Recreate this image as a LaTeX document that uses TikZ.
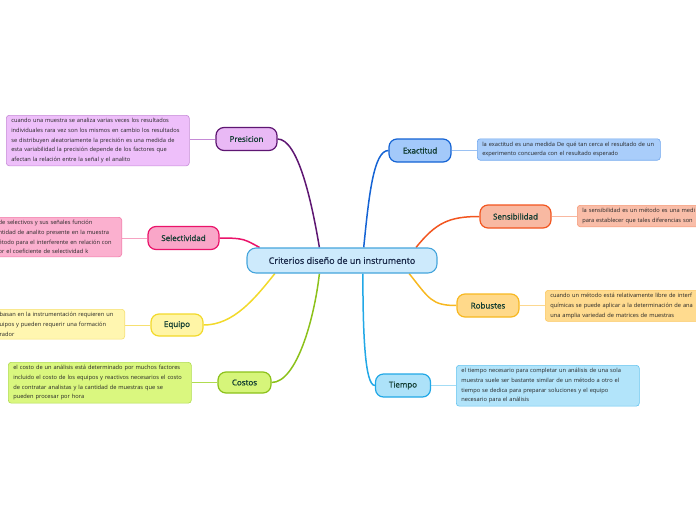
\documentclass[tikz,border=0pt]{standalone}
\usepackage{fontspec}
\setmainfont{Open Sans}
\newfontfamily\topicfont[FakeBold=1.0]{Open Sans}
\usepackage{tikz}
\usetikzlibrary{
    positioning,
    backgrounds,
    calc
}
% central idea
\definecolor{Cfill}{HTML}{CDEAFC}
\definecolor{Cdraw}{HTML}{45A5DC}
\definecolor{Ctext}{HTML}{1B2B4B}
\definecolor{Ttext}{HTML}{123D32}
% one set per branch: topic fill, topic line, note fill, note line
\definecolor{Pfill}{HTML}{E9B9F5}\definecolor{Pdark}{HTML}{5E1672}
\definecolor{Pnote}{HTML}{EEBFFA}\definecolor{Pedge}{HTML}{C58AD6}
\definecolor{Sfill}{HTML}{F9A6C8}\definecolor{Sdark}{HTML}{EA136A}
\definecolor{Snote}{HTML}{FBB0CF}\definecolor{Sedge}{HTML}{F27AA8}
\definecolor{Efill}{HTML}{FFF5A6}\definecolor{Edark}{HTML}{F2D92A}
\definecolor{Enote}{HTML}{FFF6B0}\definecolor{Eedge}{HTML}{F6E070}
\definecolor{Kfill}{HTML}{D6F57A}\definecolor{Kdark}{HTML}{8CC11A}
\definecolor{Knote}{HTML}{DAF77F}\definecolor{Kedge}{HTML}{B0DC50}
\definecolor{Xfill}{HTML}{A3C9FA}\definecolor{Xdark}{HTML}{1463D4}
\definecolor{Xnote}{HTML}{A9CDFA}\definecolor{Xedge}{HTML}{6FA6EE}
\definecolor{Nfill}{HTML}{F8B9A2}\definecolor{Ndark}{HTML}{F2551F}
\definecolor{Nnote}{HTML}{F9BDA8}\definecolor{Nedge}{HTML}{F69A78}
\definecolor{Rfill}{HTML}{FFD98A}\definecolor{Rdark}{HTML}{F7B821}
\definecolor{Rnote}{HTML}{FFDB8F}\definecolor{Redge}{HTML}{FBC860}
\definecolor{Tfill}{HTML}{ADE2F9}\definecolor{Tdark}{HTML}{22A8E6}
\definecolor{Tnote}{HTML}{B2E4FA}\definecolor{Tedge}{HTML}{66C4EF}
\tikzset{
    mcentral/.style={
        rectangle, rounded corners=9pt, draw=Cdraw, line width=1.1pt,
        fill=Cfill, text=Ctext, minimum width=190pt, minimum height=25pt,
        font=\topicfont\fontsize{9}{10}\selectfont, inner sep=0pt
    },
    mtopic/.style 2 args={
        rectangle, rounded corners=8pt, draw=#2, line width=1.2pt,
        fill=#1, text=Ttext, minimum height=23pt,
        font=\topicfont\fontsize{8}{10}\selectfont, inner sep=0pt
    },
    mnote/.style 2 args={
        rectangle, rounded corners=3pt, draw=#2, line width=0.6pt,
        fill=#1, text=black!85, text width=173pt, align=left,
        font=\fontsize{5.7}{9.7}\selectfont, inner xsep=5pt, inner ysep=3pt
    },
    mbranch/.style={line width=1.5pt, #1},
    mlink/.style={line width=0.9pt, #1},
}
\begin{document}
\begin{tikzpicture}[x=1pt, y=1pt]

    \useasboundingbox (0,0) rectangle (696,-520);
    \clip (0,0) rectangle (696,-520);

    \node [mcentral] (central) at (342,-260.5) {Criterios diseño de un instrumento};

    % left branches
    \node [mtopic={Pfill}{Pdark}, minimum width=61pt] (presicion) at (246.5,-139) {Presicion};
    \node [mtopic={Sfill}{Sdark}, minimum width=71pt] (selectividad) at (183.5,-238) {Selectividad};
    \node [mtopic={Efill}{Edark}, minimum width=52pt, minimum height=22pt] (equipo) at (177,-325) {Equipo};
    \node [mtopic={Kfill}{Kdark}, minimum width=53pt, minimum height=21pt] (costos) at (244.5,-382.5) {Costos};

    % right branches
    \node [mtopic={Xfill}{Xdark}, minimum width=62pt] (exactitud) at (420,-150.5) {Exactitud};
    \node [mtopic={Nfill}{Ndark}, minimum width=71pt] (sensibilidad) at (515.5,-216.5) {Sensibilidad};
    \node [mtopic={Rfill}{Rdark}, minimum width=62pt] (robustes) at (488,-305.5) {Robustes};
    \node [mtopic={Tfill}{Tdark}, minimum width=55pt] (tiempo) at (403,-385.5) {Tiempo};

    % notes
    \node [mnote={Pnote}{Pedge}, anchor=north west] (presicionnote) at (6,-115)
        {cuando una muestra se analiza varias veces los resultados\\
         individuales rara vez son los mismos en cambio los resultados\\
         se distribuyen aleatoriamente la precisión es una medida de\\
         esta variabilidad la precisión depende de los factores que\\
         afectan la relación entre la señal y el analito};
    \node [mnote={Snote}{Sedge}, anchor=north east, text width=118pt] (selectividadnote) at (122,-217)
        {de selectivos y sus señales función\\
         ntidad de analito presente en la muestra\\
         étodo para el interferente en relación con\\
         or el coeficiente de selectividad k};
    \node [mnote={Enote}{Eedge}, anchor=north east, text width=120pt] (equiponote) at (125,-309)
        {basan en la instrumentación requieren un\\
         uipos y pueden requerir una formación\\
         rador};
    \node [mnote={Knote}{Kedge}, anchor=north west] (costosnote) at (8,-362)
        {el costo de un análisis está determinado por muchos factores\\
         incluido el costo de los equipos y reactivos necesarios el costo\\
         de contratar analistas y la cantidad de muestras que se\\
         pueden procesar por hora};
    \node [mnote={Xnote}{Xedge}, anchor=north west] (exactitudnote) at (477,-138.5)
        {la exactitud es una medida De qué tan cerca el resultado de un\\
         experimento concuerda con el resultado esperado};
    \node [mnote={Nnote}{Nedge}, anchor=north west] (sensibilidadnote) at (577,-205)
        {la sensibilidad es un método es una medi\\
         para establecer que tales diferencias son};
    \node [mnote={Rnote}{Redge}, anchor=north west] (robustesnote) at (545,-290)
        {cuando un método está relativamente libre de interf\\
         químicas se puede aplicar a la determinación de ana\\
         una amplia variedad de matrices de muestras};
    \node [mnote={Tnote}{Tedge}, anchor=north west] (tiemponote) at (456,-365)
        {el tiempo necesario para completar un análisis de una sola\\
         muestra suele ser bastante similar de un método a otro el\\
         tiempo se dedica para preparar soluciones y el equipo\\
         necesario para el análisis};

    \begin{scope}[on background layer]
        \draw [mbranch=Pdark] (presicion.east) .. controls +(20,0) and +(-8,48) .. (central.150);
        \draw [mbranch=Sdark] (selectividad.east) .. controls +(25,0) and +(-15,8) .. (central.171);
        \draw [mbranch=Edark] (equipo.east) .. controls +(30,0) and +(-20,-25) .. (central.191);
        \draw [mbranch=Kdark] (costos.east) .. controls +(25,0) and +(-5,-45) .. (central.210);
        \draw [mbranch=Xdark] (central.31) .. controls +(5,50) and +(-15,0) .. (exactitud.west);
        \draw [mbranch=Ndark] (central.10) .. controls +(20,25) and +(-30,0) .. (sensibilidad.west);
        \draw [mbranch=Rdark] (central.349) .. controls +(20,-25) and +(-25,0) .. (robustes.west);
        \draw [mbranch=Tdark] (central.328) .. controls +(0,-60) and +(-10,0) .. (tiempo.west);

        \draw [mlink=Pedge] (presicion.west) -- (presicionnote.east |- presicion.west);
        \draw [mlink=Sedge!70] (selectividad.west) -- (selectividadnote.east |- selectividad.west);
        \draw [mlink=Eedge] (equipo.west) -- (equiponote.east |- equipo.west);
        \draw [mlink=Kedge] (costos.west) -- (costosnote.east |- costos.west);
        \draw [mlink=Xedge!70] (exactitud.east) -- (exactitudnote.west |- exactitud.east);
        \draw [mlink=Nedge!70] (sensibilidad.east) -- (sensibilidadnote.west |- sensibilidad.east);
        \draw [mlink=Redge!70] (robustes.east) -- (robustesnote.west |- robustes.east);
        \draw [mlink=Tedge!60] (tiempo.east) -- (tiemponote.west |- tiempo.east);
    \end{scope}

\end{tikzpicture}
\end{document}
